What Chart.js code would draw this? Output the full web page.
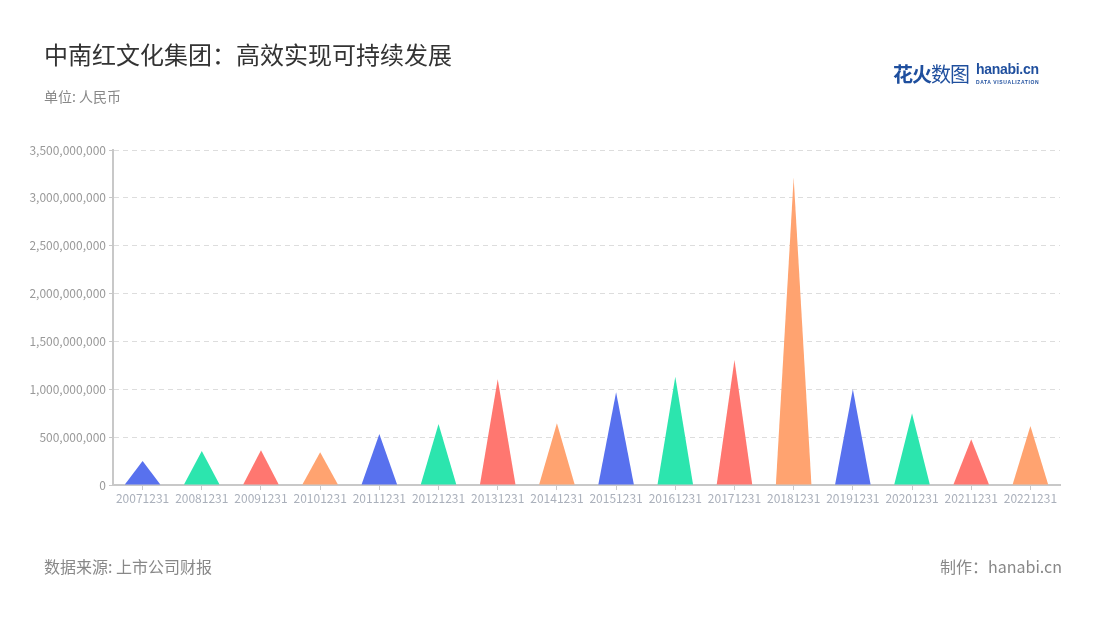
<!DOCTYPE html>
<html>
<head>
<meta charset="utf-8">
<script src="https://cdn.jsdelivr.net/npm/chart.js@4"></script>
<style>
  body { margin: 0; background: #fff; font-family: "Noto Sans CJK SC", "Noto Sans", sans-serif; }
  #wrap { position: relative; width: 1100px; height: 620px; overflow: hidden; }
  #chart { position: absolute; left: 0; top: 0; }
  .title { position: absolute; left: 44px; top: 36px; font-size: 24px; color: #333; }
  .unit { position: absolute; left: 44px; top: 86px; font-size: 14px; color: #888; }
  .source { position: absolute; left: 44px; top: 554px; font-size: 16px; color: #888; }
  .maker { position: absolute; right: 38px; top: 554px; font-size: 16px; color: #888; }
  .logo { position: absolute; left: 893px; top: 59px; color: #1f4f9e; white-space: nowrap; }
  .logo .cn { font-size: 20px; letter-spacing: -1px; }
  .logo .cn b { font-weight: 700; }
  .logo .en { position: absolute; left: 83px; top: 2px; font-family: "Liberation Sans", sans-serif; font-weight: 700; font-size: 14px; letter-spacing: -0.3px; }
  .logo .sub { position: absolute; left: 83px; top: 20px; font-family: "Liberation Sans", sans-serif; font-size: 5px; font-weight: 700; letter-spacing: 0.6px; }
</style>
</head>
<body>
<div id="wrap">
  <canvas id="chart" width="1100" height="620"></canvas>
  <div class="title">中南红文化集团：高效实现可持续发展</div>
  <div class="unit">单位: 人民币</div>
  <div class="logo"><span class="cn"><b>花火</b>数图</span><span class="en">hanabi.cn</span><span class="sub">DATA VISUALIZATION</span></div>
  <div class="source">数据来源: 上市公司财报</div>
  <div class="maker">制作：hanabi.cn</div>
</div>
<script>
// periods (report dates)
const periods = ['20071231', '20081231', '20091231', '20101231', '20111231', '20121231', '20131231', '20141231',
                 '20151231', '20161231', '20171231', '20181231', '20191231', '20201231', '20211231', '20221231'];
// values, RMB
const values = [250e6, 355e6, 362e6, 342e6, 533e6, 637e6, 1104e6, 645e6,
                968e6, 1132e6, 1306e6, 3211e6, 1000e6, 749e6, 477e6, 617e6];
const palette = ['#5871ee', '#2ce5ae', '#ff7770', '#ffa370'];
const barColors = values.map((_, i) => palette[i % palette.length]);

// draw each bar as a triangle spike instead of a rectangle
const spikePlugin = {
  id: 'spikes',
  beforeDatasetsDraw(chart) {
    const ctx = chart.ctx;
    const meta = chart.getDatasetMeta(0);
    ctx.save();
    meta.data.forEach((bar, i) => {
      const p = bar.getProps(['x', 'y', 'base', 'width'], true);
      ctx.beginPath();
      ctx.moveTo(p.x - p.width / 2, p.base);
      ctx.lineTo(p.x, p.y);
      ctx.lineTo(p.x + p.width / 2, p.base);
      ctx.closePath();
      ctx.fillStyle = barColors[i];
      ctx.fill();
    });
    ctx.restore();
    return false;
  },
};

const tickFont = { family: '"Noto Sans CJK SC", "Noto Sans", sans-serif', size: 12 };

new Chart(document.getElementById('chart'), {
  type: 'bar',
  data: {
    labels: periods,
    datasets: [{ data: values, backgroundColor: barColors, categoryPercentage: 1, barPercentage: 0.6 }],
  },
  options: {
    responsive: false,
    animation: false,
    layout: { padding: { left: 0, right: 40, top: 150, bottom: 0 } },
    plugins: { legend: { display: false }, tooltip: { enabled: false } },
    scales: {
      x: {
        grid: { display: true, offset: false, drawOnChartArea: false, drawTicks: true, tickLength: 5, color: '#c8c8c8' },
        border: { color: '#c8c8c8', width: 2 },
        ticks: { color: '#aab0bb', font: tickFont, maxRotation: 0, autoSkip: false, padding: 1 },
        afterFit: (s) => { s.height = 135; },
      },
      y: {
        min: 0,
        max: 3.5e9,
        grid: { color: '#dddddd', tickColor: '#c8c8c8', tickLength: 4, drawTicks: true },
        border: { color: '#c8c8c8', width: 2, dash: [5, 4] },
        ticks: {
          stepSize: 5e8,
          color: '#999999',
          font: tickFont,
          padding: 3,
          callback: (v) => Number(v).toLocaleString('en-US'),
        },
        afterFit: (s) => { s.width = 113; },
      },
    },
  },
  plugins: [spikePlugin],
});
</script>
</body>
</html>
